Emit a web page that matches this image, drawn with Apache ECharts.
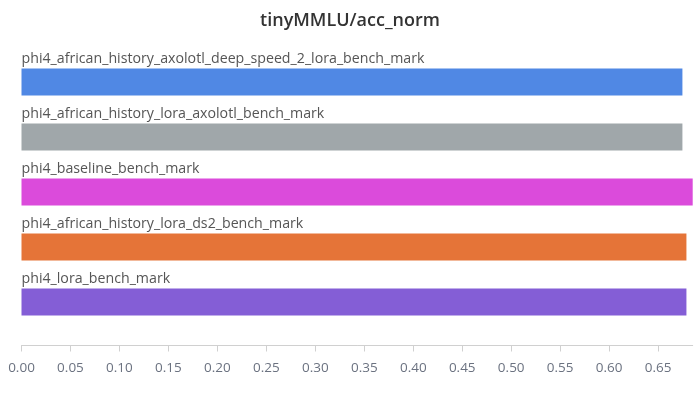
<!DOCTYPE html>
<html><head><meta charset="utf-8">
<script src="https://cdn.jsdelivr.net/npm/echarts@6/dist/echarts.min.js"></script>
<style>html,body{margin:0;padding:0;background:#fff}#c{width:700px;height:397px}</style>
</head><body><div id="c"></div>
<script>
const categories = [
  "phi4_african_history_axolotl_deep_speed_2_lora_bench_mark",
  "phi4_african_history_lora_axolotl_bench_mark",
  "phi4_baseline_bench_mark",
  "phi4_african_history_lora_ds2_bench_mark",
  "phi4_lora_bench_mark"
];
const values = [0.6748, 0.6748, 0.6853, 0.6789, 0.6789];
const colors = ["#5088e4", "#a0a7aa", "#db4bdb", "#e57438", "#845ed6"];
const tickValues = [0, 0.05, 0.10, 0.15, 0.20, 0.25, 0.30, 0.35, 0.40, 0.45, 0.50, 0.55, 0.60, 0.65];
const title = "tinyMMLU/acc_norm";

const chart = echarts.init(document.getElementById('c'));
chart.setOption({
  animation: false,
  title: {
    text: title, left: 'center', top: 7,
    textStyle: {fontFamily: 'Open Sans', fontSize: 18, fontWeight: 600, color: '#333'}
  },
  grid: {left: 21.5, right: 7.3, top: 54.5, bottom: 67.5},
  xAxis: {
    type: 'value', min: 0, max: values.reduce((a, b) => Math.max(a, b)),
    offset: 16,
    axisLine: {show: true, lineStyle: {color: '#d0d0d0'}},
    axisTick: {show: true, length: 6, lineStyle: {color: '#d0d0d0'}, customValues: tickValues},
    splitLine: {show: false},
    axisLabel: {
      customValues: tickValues,
      formatter: v => v.toFixed(2),
      color: '#6b7280', fontFamily: 'Open Sans', fontSize: 13.5, margin: 16
    }
  },
  yAxis: {
    type: 'category', data: categories, inverse: true, show: false
  },
  series: [{
    type: 'bar',
    barWidth: 27,
    data: values.map((v, i) => ({value: v, itemStyle: {color: colors[i]}})),
    label: {
      show: true,
      position: [0, -10],
      align: 'left',
      verticalAlign: 'middle',
      formatter: p => p.name,
      color: '#555',
      fontFamily: 'Open Sans',
      fontSize: 14.2
    }
  }]
});
</script>
</body></html>
